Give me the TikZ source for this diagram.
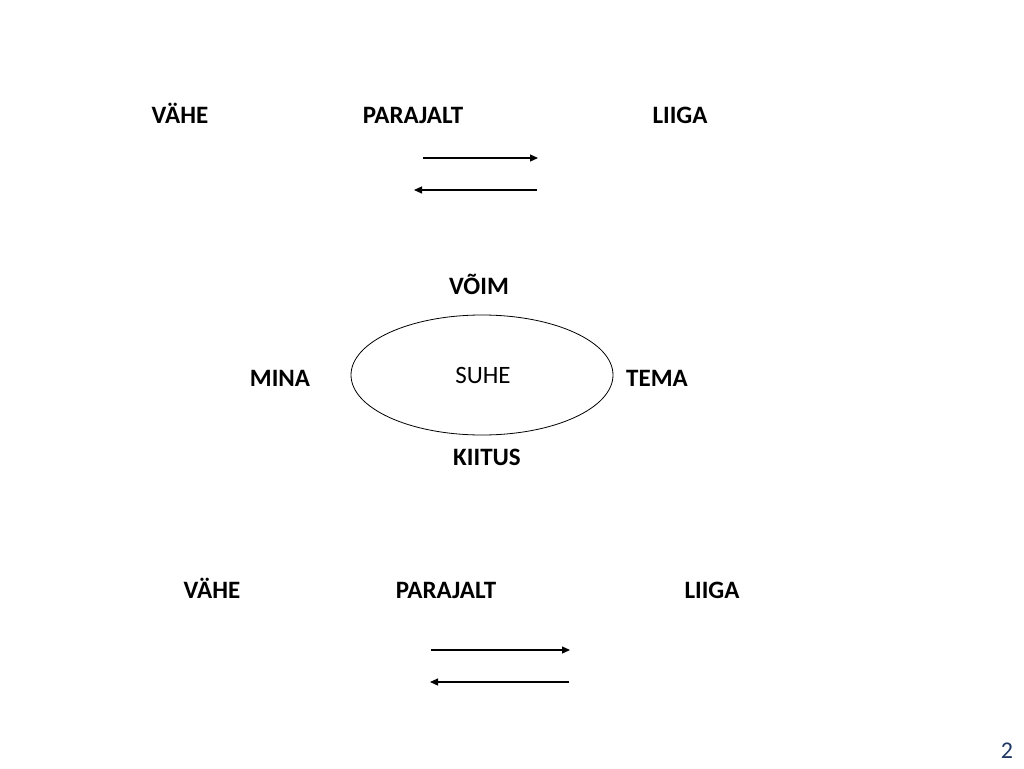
\documentclass[tikz,border=0pt]{standalone}
\usepackage{fontspec}
\setmainfont{Carlito}
\usetikzlibrary{arrows.meta,shapes.geometric}
\begin{document}
\begin{tikzpicture}[x=1pt,y=-1pt,
  lbl/.style={font=\fontsize{25}{30}\selectfont\bfseries, inner sep=0pt, anchor=base},
  arr/.style={-{Triangle[length=8pt,width=7pt]}, line width=1.2pt},
  ell/.style={draw, ellipse, line width=0.8pt, minimum width=262pt, minimum height=120pt, inner sep=0pt}]
\useasboundingbox (0,0) rectangle (1024,768);
% top row
\node[lbl] (v1) at (180,123) {VÄHE};
\node[lbl] (p1) at (413,123) {PARAJALT};
\node[lbl] (l1) at (680,123) {LIIGA};
\coordinate (a1s) at (423,158);
\coordinate (a1e) at (538,158);
\coordinate (a2s) at (537,190);
\coordinate (a2e) at (414,190);
\draw[arr] (a1s) -- (a1e);
\draw[arr] (a2s) -- (a2e);
% middle
\node[lbl] (voim) at (479,294) {VÕIM};
\node[ell] (suhe) at (482,375) {};
\node[font=\fontsize{25}{30}\selectfont, inner sep=0pt, anchor=base] (st) at (483,383) {SUHE};
\node[lbl] (mina) at (280,386) {MINA};
\node[lbl] (tema) at (657,386) {TEMA};
\node[lbl] (kiitus) at (487,465) {KIITUS};
% bottom row
\node[lbl] (v2) at (212,598) {VÄHE};
\node[lbl] (p2) at (446,598) {PARAJALT};
\node[lbl] (l2) at (712,598) {LIIGA};
\coordinate (a3s) at (431,650);
\coordinate (a3e) at (570,650);
\coordinate (a4s) at (569,682);
\coordinate (a4e) at (430,682);
\draw[arr] (a3s) -- (a3e);
\draw[arr] (a4s) -- (a4e);
% page number
\definecolor{pgnum}{HTML}{1F3864}
\node[font=\fontsize{24}{28}\selectfont, text=pgnum, inner sep=0pt, anchor=base] (pg) at (1007,758) {2};
\end{tikzpicture}
\end{document}
